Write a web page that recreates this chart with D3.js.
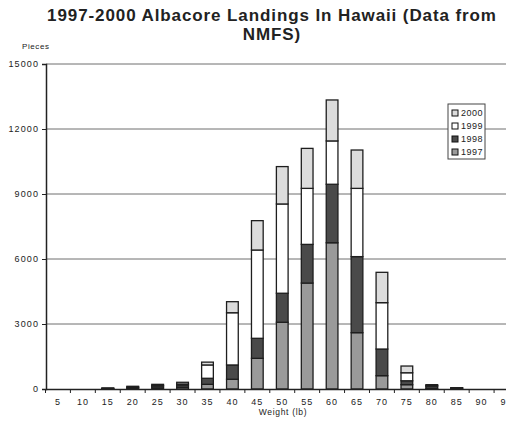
<!DOCTYPE html>
<html>
<head>
<meta charset="utf-8">
<script src="https://cdn.jsdelivr.net/npm/d3@7"></script>
<style>
body { margin: 0; background: #fff; }
text { font-family: "Liberation Sans", Arial, sans-serif; fill: #222; }
</style>
</head>
<body>
<div id="chart"></div>
<script>
//////////////////////////////////////////////////////////////////////////////
// Data (pieces per weight class)

var weights = [5, 10, 15, 20, 25, 30, 35, 40, 45, 50, 55, 60, 65, 70, 75, 80, 85, 90, 95];
var years = ["1997", "1998", "1999", "2000"];
var y1997 = [0, 0, 10, 30, 50, 80, 215, 450, 1415, 3080, 4890, 6750, 2600, 615, 200, 30, 10, 0, 0];
var y1998 = [0, 0, 15, 40, 80, 100, 280, 660, 925, 1340, 1785, 2700, 3510, 1230, 180, 100, 30, 0, 0];
var y1999 = [0, 0, 10, 25, 40, 50, 615, 2410, 4075, 4120, 2585, 2000, 3150, 2140, 370, 30, 10, 0, 0];
var y2000 = [0, 0, 10, 30, 45, 80, 130, 510, 1355, 1725, 1845, 1890, 1770, 1400, 310, 40, 10, 0, 0];
var yTicks = [0, 3000, 6000, 9000, 12000, 15000];

var rows = weights.map(function(w, i) {
    return { w: w, "1997": y1997[i], "1998": y1998[i], "1999": y1999[i], "2000": y2000[i] };
});

//////////////////////////////////////////////////////////////////////////////

var width = 506, height = 421;
var colors = { "1997": "#9a9a9a", "1998": "#4a4a4a", "1999": "#ffffff", "2000": "#dcdcdc" };

var x = d3.scaleBand().domain(weights).range([45.5, 519]).paddingInner(0.53).paddingOuter(0.265);
var y = d3.scaleLinear().domain([0, 15000]).range([389, 64]);

var svg = d3.select("#chart")
    .append("svg")
    .attr("width", width)
    .attr("height", height);

// title
var title = svg.append("text")
    .attr("text-anchor", "middle")
    .style("font-size", "17px")
    .style("font-weight", "bold")
    .style("letter-spacing", "0.9px");
title.append("tspan").attr("x", 272).attr("y", 21).text("1997-2000 Albacore Landings In Hawaii (Data from");
title.append("tspan").attr("x", 272).attr("y", 40).text("NMFS)");

svg.append("text")
    .attr("x", 22).attr("y", 49)
    .style("font-size", "8px")
    .style("letter-spacing", "0.6px")
    .text("Pieces");

// gridlines
svg.append("g")
    .selectAll("line")
    .data(yTicks.slice(1))
    .enter()
    .append("line")
    .attr("x1", 46).attr("x2", width)
    .attr("y1", function(d) { return y(d); })
    .attr("y2", function(d) { return y(d); })
    .attr("stroke", "#6e6e6e")
    .attr("stroke-width", 1);

// y axis
var yAxis = svg.append("g")
    .attr("transform", "translate(46,0)")
    .call(d3.axisLeft(y).tickValues(yTicks).tickSize(4).tickPadding(3).tickFormat(d3.format("d")));
yAxis.select(".domain").attr("stroke", "#222").attr("stroke-width", 1.5);
yAxis.selectAll("line").attr("stroke", "#222");
yAxis.selectAll("text")
    .style("font-family", "Liberation Sans, Arial, sans-serif")
    .style("font-size", "9px")
    .style("letter-spacing", "1.1px")
    .attr("fill", "#222");

// stacked bars
var stack = d3.stack().keys(years);
var series = stack(rows);

svg.append("g")
    .selectAll("g")
    .data(series)
    .enter()
    .append("g")
    .attr("fill", function(d) { return colors[d.key]; })
    .selectAll("rect")
    .data(function(d) { return d.filter(function(p) { return p[1] > p[0]; }); })
    .enter()
    .append("rect")
    .attr("x", function(d) { return x(d.data.w); })
    .attr("y", function(d) { return y(d[1]); })
    .attr("width", x.bandwidth())
    .attr("height", function(d) { return y(d[0]) - y(d[1]); })
    .attr("stroke", "#1e1e1e")
    .attr("stroke-width", 1.3);

// x axis
var xAxis = svg.append("g")
    .attr("transform", "translate(0,389)")
    .call(d3.axisBottom(x).tickSize(0).tickPadding(10));
xAxis.select(".domain").attr("stroke", "#222").attr("stroke-width", 1.5);
xAxis.selectAll("text")
    .style("font-family", "Liberation Sans, Arial, sans-serif")
    .style("font-size", "9px")
    .style("letter-spacing", "1px")
    .attr("fill", "#222");

// tick marks between categories
svg.append("g")
    .selectAll("line")
    .data(weights)
    .enter()
    .append("line")
    .attr("x1", function(d) { return x(d) - x.step() * x.paddingInner() / 2; })
    .attr("x2", function(d) { return x(d) - x.step() * x.paddingInner() / 2; })
    .attr("y1", 389).attr("y2", 393)
    .attr("stroke", "#222");

svg.append("text")
    .attr("x", 283).attr("y", 415)
    .attr("text-anchor", "middle")
    .style("font-size", "8.5px")
    .style("letter-spacing", "0.7px")
    .text("Weight (lb)");

// legend
var legend = svg.append("g").attr("transform", "translate(448,104)");
legend.append("rect")
    .attr("width", 37).attr("height", 55)
    .attr("fill", "#fff")
    .attr("stroke", "#444")
    .attr("stroke-width", 1);

var items = legend.selectAll("g")
    .data(years.slice().reverse())
    .enter()
    .append("g")
    .attr("transform", function(d, i) { return "translate(4," + (6 + i * 13) + ")"; });
items.append("rect")
    .attr("width", 6).attr("height", 6)
    .attr("fill", function(d) { return colors[d]; })
    .attr("stroke", "#111")
    .attr("stroke-width", 1);
items.append("text")
    .attr("x", 9).attr("y", 6)
    .style("font-size", "9px")
    .style("letter-spacing", "0.5px")
    .text(function(d) { return d; });
</script>
</body>
</html>
